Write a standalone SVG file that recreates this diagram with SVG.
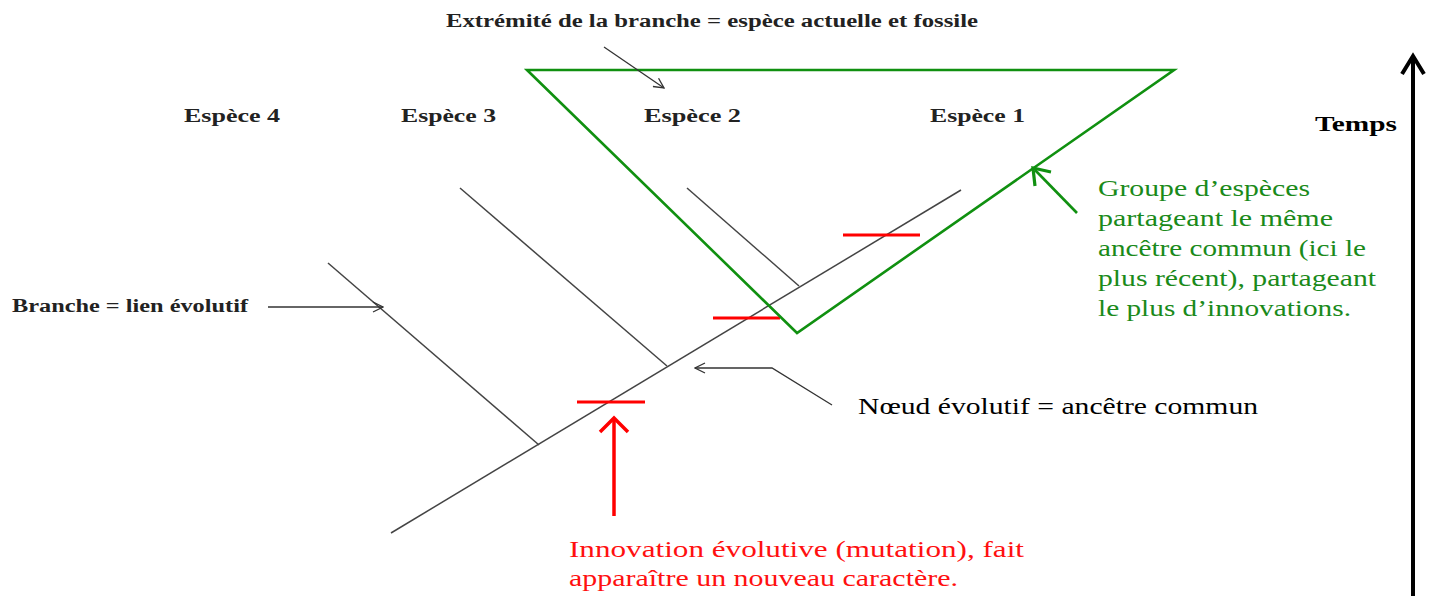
<svg xmlns="http://www.w3.org/2000/svg" width="1437" height="596" viewBox="0 0 1437 596">
<style>
.lbl{font-family:"Liberation Serif","Times New Roman",serif;font-weight:bold;font-size:18px;fill:#222}
.pal{font-family:"Liberation Serif","Times New Roman",serif;font-size:24px}
.br{stroke:#444;stroke-width:1.5;fill:none}
.thin{stroke:#333;stroke-width:1.3;fill:none}
.red{stroke:#ff0000;stroke-width:3;fill:none}
</style>
<defs>
<marker id="open" viewBox="0 0 12 12" refX="11" refY="6" markerWidth="12" markerHeight="12" markerUnits="userSpaceOnUse" orient="auto">
<path d="M1,1 L11,6 L1,11" fill="none" stroke="#333" stroke-width="1.3"/>
</marker>
</defs>
<rect width="1437" height="596" fill="#fff"/>
<g id="tree">
<line class="br" x1="391" y1="533" x2="961" y2="190"/>
<line class="br" x1="328" y1="263" x2="539" y2="445"/>
<line class="br" x1="460" y1="188" x2="667" y2="366"/>
<line class="br" x1="687" y1="188" x2="799" y2="286"/>
</g>
<g id="innovations">
<line class="red" x1="577" y1="402" x2="645" y2="402"/>
<line class="red" x1="713" y1="318" x2="780" y2="318"/>
<line class="red" x1="843" y1="235" x2="920" y2="235"/>
</g>
<g id="groupe-triangle">
<polygon points="527,70 1174,70 797,333" fill="none" stroke="#109010" stroke-width="2.6"/>
</g>
<g id="labels-especes">
<text class="lbl" x="184" y="122" textLength="96" lengthAdjust="spacingAndGlyphs">Espèce 4</text>
<text class="lbl" x="401" y="122" textLength="95" lengthAdjust="spacingAndGlyphs">Espèce 3</text>
<text class="lbl" x="644" y="122" textLength="97" lengthAdjust="spacingAndGlyphs">Espèce 2</text>
<text class="lbl" x="930" y="122" textLength="95" lengthAdjust="spacingAndGlyphs">Espèce 1</text>
</g>
<g id="label-extremite">
<text class="lbl" x="446" y="27" textLength="532" lengthAdjust="spacingAndGlyphs">Extrémité de la branche = espèce actuelle et fossile</text>
</g>
<g id="label-branche">
<text class="lbl" x="12" y="312" textLength="236" lengthAdjust="spacingAndGlyphs">Branche = lien évolutif</text>
</g>
<g id="label-noeud">
<text class="pal" x="858" y="414" fill="#000" textLength="400" lengthAdjust="spacingAndGlyphs">Nœud évolutif = ancêtre commun</text>
</g>
<g id="label-groupe" class="pal" fill="#1a8a1a">
<text x="1098" y="196" textLength="212" lengthAdjust="spacingAndGlyphs">Groupe d’espèces</text>
<text x="1098" y="226" textLength="235" lengthAdjust="spacingAndGlyphs">partageant le même</text>
<text x="1098" y="256" textLength="268" lengthAdjust="spacingAndGlyphs">ancêtre commun (ici le</text>
<text x="1098" y="286" textLength="278" lengthAdjust="spacingAndGlyphs">plus récent), partageant</text>
<text x="1098" y="316" textLength="253" lengthAdjust="spacingAndGlyphs">le plus d’innovations.</text>
</g>
<g id="label-innovation" class="pal" fill="#ff1010">
<text x="569" y="557" textLength="455" lengthAdjust="spacingAndGlyphs">Innovation évolutive (mutation), fait</text>
<text x="569" y="586" textLength="389" lengthAdjust="spacingAndGlyphs">apparaître un nouveau caractère.</text>
</g>
<g id="temps">
<text x="1315" y="131" font-family="Liberation Serif,serif" font-weight="bold" font-size="22" fill="#000" textLength="82" lengthAdjust="spacingAndGlyphs">Temps</text>
</g>
<g id="connectors">
<line class="thin" x1="604" y1="47" x2="664" y2="88" marker-end="url(#open)"/>
<line class="thin" x1="268" y1="307" x2="383" y2="307" marker-end="url(#open)"/>
<polyline class="thin" points="832,405 772,368 695,368" marker-end="url(#open)"/>
<line x1="614" y1="516" x2="614" y2="420" stroke="#ff0000" stroke-width="3.5"/>
<polyline points="600,432 614,418 628,432" fill="none" stroke="#ff0000" stroke-width="3.5"/>
<line x1="1077" y1="213" x2="1035" y2="170" stroke="#109010" stroke-width="2.6"/>
<polyline points="1035,186 1033,168 1051,172" fill="none" stroke="#109010" stroke-width="3.2"/>
<line x1="1413" y1="596" x2="1413" y2="58" stroke="#000" stroke-width="4"/>
<polyline points="1402,74 1413,56 1424,74" fill="none" stroke="#000" stroke-width="4"/>
</g>
</svg>
